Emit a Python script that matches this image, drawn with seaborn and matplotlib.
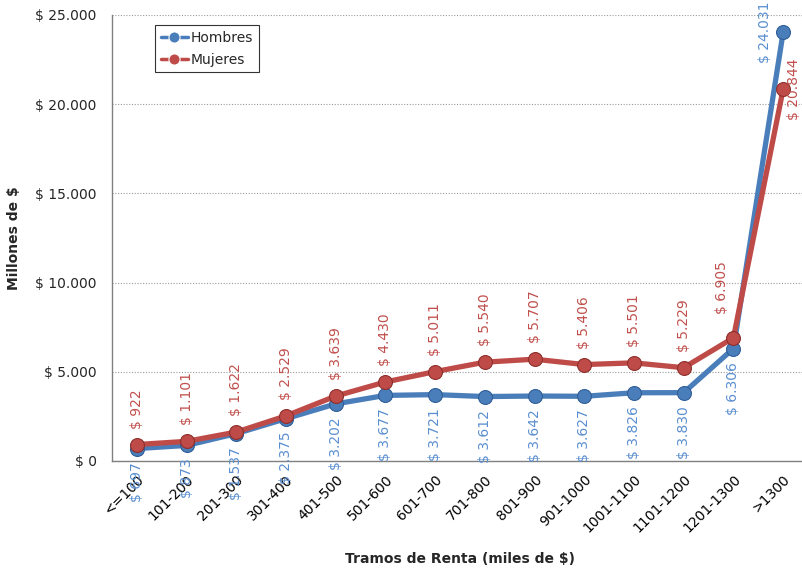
import numpy as np
import pandas as pd
import matplotlib
matplotlib.use("Agg")
import matplotlib.pyplot as plt
from matplotlib.ticker import FuncFormatter, FixedLocator
import seaborn as sns

# datos
tramos = ["<=100", "101-200", "201-300", "301-400", "401-500", "501-600",
          "601-700", "701-800", "801-900", "901-1000", "1001-1100",
          "1101-1200", "1201-1300", ">1300"]
hombres = [697, 873, 1537, 2375, 3202, 3677, 3721, 3612, 3642, 3627,
           3826, 3830, 6306, 24031]
mujeres = [922, 1101, 1622, 2529, 3639, 4430, 5011, 5540, 5707, 5406,
           5501, 5229, 6905, 20844]

AZUL = "#4A7EBB"
ROJO = "#BE4B48"
AZUL_TXT = "#5B8FD0"
ROJO_TXT = "#C0504D"

df = pd.DataFrame({
    "tramo": tramos * 2,
    "monto": hombres + mujeres,
    "sexo": ["Hombres"] * len(tramos) + ["Mujeres"] * len(tramos),
})

sns.set_style("white")
plt.rcParams["font.family"] = ["DejaVu Sans"]

fig = plt.figure(figsize=(8.02, 5.72), dpi=100)
ax = fig.add_axes([112 / 802, 1 - 461 / 572, 696 / 802, 446 / 572])

sns.lineplot(data=df, x="tramo", y="monto", hue="sexo",
             palette={"Hombres": AZUL, "Mujeres": ROJO},
             marker="o", markersize=10, linewidth=3.8,
             ax=ax, legend=True, zorder=3)

# bordes de marcadores algo mas oscuros
for line, ec in zip(ax.lines, ["#2F5E97", "#8E2F2C"]):
    line.set_markeredgecolor(ec)
    line.set_markeredgewidth(0.8)

def fmt(v):
    return f"$ {int(v):,}".replace(",", ".")

x = np.arange(len(tramos))
n = len(tramos)
for i, (xi, v) in enumerate(zip(x, hombres)):
    if i == n - 1:
        off, ha, va = (-13, 0), "center", "center"
    else:
        off, ha, va = (0, -9.5), "center", "top"
    ax.annotate(fmt(v), (xi, v), xytext=off, textcoords="offset points",
                rotation=90, ha=ha, va=va, color=AZUL_TXT, fontsize=10,
                annotation_clip=False)
for i, (xi, v) in enumerate(zip(x, mujeres)):
    if i == n - 1:
        off, ha, va = (8, 0), "center", "center"
    elif i == n - 2:
        off, ha, va = (-8, 17), "center", "bottom"
    else:
        off, ha, va = (0, 11.5), "center", "bottom"
    ax.annotate(fmt(v), (xi, v), xytext=off, textcoords="offset points",
                rotation=90, ha=ha, va=va, color=ROJO_TXT, fontsize=10,
                annotation_clip=False)

ax.set_xlim(-0.5, n - 0.5)
ax.set_ylim(0, 25000)
ax.set_yticks(np.arange(0, 25001, 5000))
ax.yaxis.set_major_formatter(FuncFormatter(lambda v, p: fmt(v)))
ax.grid(axis="y", color="#9A9A9A", linestyle=(0, (1, 1.5)), linewidth=0.8)
ax.set_axisbelow(True)

ax.set_xticks(x)
ax.set_xticklabels(tramos, rotation=45, ha="right", rotation_mode="anchor")
ax.xaxis.set_minor_locator(FixedLocator(np.arange(-0.5, n, 1)))
ax.tick_params(axis="x", which="major", length=0, pad=8, labelsize=10, colors="black")
ax.tick_params(axis="x", which="minor", length=5, color="#808080", direction="out")
ax.tick_params(axis="y", length=5, color="#808080", direction="out", labelsize=10, pad=6)

for s in ["top", "right"]:
    ax.spines[s].set_visible(False)
for s in ["left", "bottom"]:
    ax.spines[s].set_color("#808080")
    ax.spines[s].set_linewidth(1)

ax.set_xlabel("Tramos de Renta (miles de $)", fontsize=10, fontweight="bold", labelpad=12)
ax.set_ylabel("Millones de $", fontsize=10, fontweight="bold", labelpad=10)

leg = ax.legend(loc="upper left", bbox_to_anchor=(43 / 696, 1 - 10 / 446),
                borderaxespad=0, frameon=True, fancybox=False, fontsize=10,
                handlelength=2.0, borderpad=0.4, labelspacing=0.6,
                handletextpad=0.2)
leg.get_frame().set_edgecolor("black")
leg.get_frame().set_linewidth(0.8)
for h in leg.get_lines():
    h.set_linewidth(2.5)
    h.set_markersize(8)

fig.savefig("out.png", dpi=100)
